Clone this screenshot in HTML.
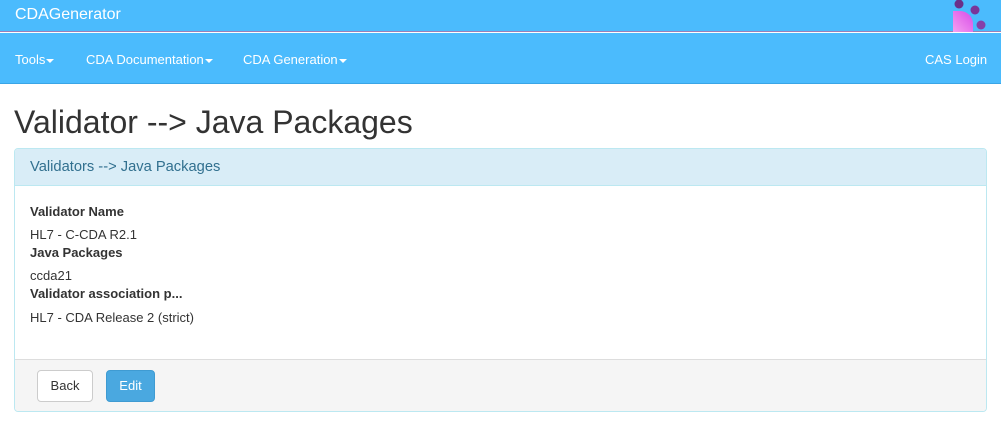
<!DOCTYPE html>
<html><head><style>
*{margin:0;padding:0;box-sizing:border-box}
body{width:1001px;height:427px;background:#fff;font-family:"Liberation Sans",sans-serif;color:#333;position:relative;overflow:hidden}
.top{position:absolute;left:0;top:0;width:1001px;height:32px;background:#4bbbfd;border-bottom:1px solid #9b7fb8}
.brand{position:absolute;left:15px;top:6px;color:#fff;font-size:16px}
.nav{position:absolute;left:0;top:33px;width:1001px;height:51px;background:#4bbbfd;border-bottom:1px solid #3aa5e6}
.nav span{position:absolute;top:19px;color:#fff;font-size:13px}
.car{display:inline-block;width:0;height:0;border-left:4px solid transparent;border-right:4px solid transparent;border-top:4px solid #fff;vertical-align:middle;margin-left:1px}
h1{position:absolute;left:14px;top:104px;font-size:32px;font-weight:normal;color:#333}
.panel{position:absolute;left:14px;top:148px;width:973px;height:264px;border:1px solid #bce8f1;border-radius:4px;overflow:hidden}
.ph{height:37px;background:#d9edf7;border-bottom:1px solid #bce8f1;color:#31708f;font-size:14.7px;padding:10px 15px}
.pb{position:relative;height:174px}
.pb div{position:absolute;left:15px;font-size:13px}
.pb b{font-weight:bold}
.pf{position:absolute;left:0;top:210px;width:100%;height:54px;background:#f5f5f5;border-top:1px solid #ddd}
.btn{position:absolute;top:10px;height:32px;border-radius:4px;font-size:13px;text-align:center;line-height:30px}
</style></head><body>
<div class="top"><div class="brand">CDAGenerator</div>
<svg style="position:absolute;left:950px;top:0" width="51" height="32">
<defs><linearGradient id="g" x1="0" y1="1" x2="1" y2="0"><stop offset="0" stop-color="#f5a0f0"/><stop offset="1" stop-color="#d94be8"/></linearGradient></defs>
<path d="M3 32 V11 H10 A13 13 0 0 1 23 24 V32 Z" fill="url(#g)"/>
<circle cx="9" cy="4" r="4.5" fill="#6a2f8a"/><circle cx="25" cy="10" r="4.5" fill="#7a3599"/><circle cx="31" cy="25" r="4.5" fill="#8640a8"/>
</svg></div>
<div class="nav">
<span style="left:15px">Tools<i class="car"></i></span>
<span style="left:86px">CDA Documentation<i class="car"></i></span>
<span style="left:243px">CDA Generation<i class="car"></i></span>
<span style="left:925px">CAS Login</span>
</div>
<h1>Validator --&gt; Java Packages</h1>
<div class="panel">
<div class="ph">Validators --&gt; Java Packages</div>
<div class="pb">
<div style="top:18px"><b>Validator Name</b></div>
<div style="top:41px">HL7 - C-CDA R2.1</div>
<div style="top:59px"><b>Java Packages</b></div>
<div style="top:82px">ccda21</div>
<div style="top:100px"><b>Validator association p...</b></div>
<div style="top:124px">HL7 - CDA Release 2 (strict)</div>
</div>
<div class="pf">
<div class="btn" style="left:22px;width:56px;background:#fff;border:1px solid #ccc;color:#333">Back</div>
<div class="btn" style="left:91px;width:49px;background:#4aa8e0;border:1px solid #3f9bd2;color:#fff">Edit</div>
</div>
</div>
</body></html>
